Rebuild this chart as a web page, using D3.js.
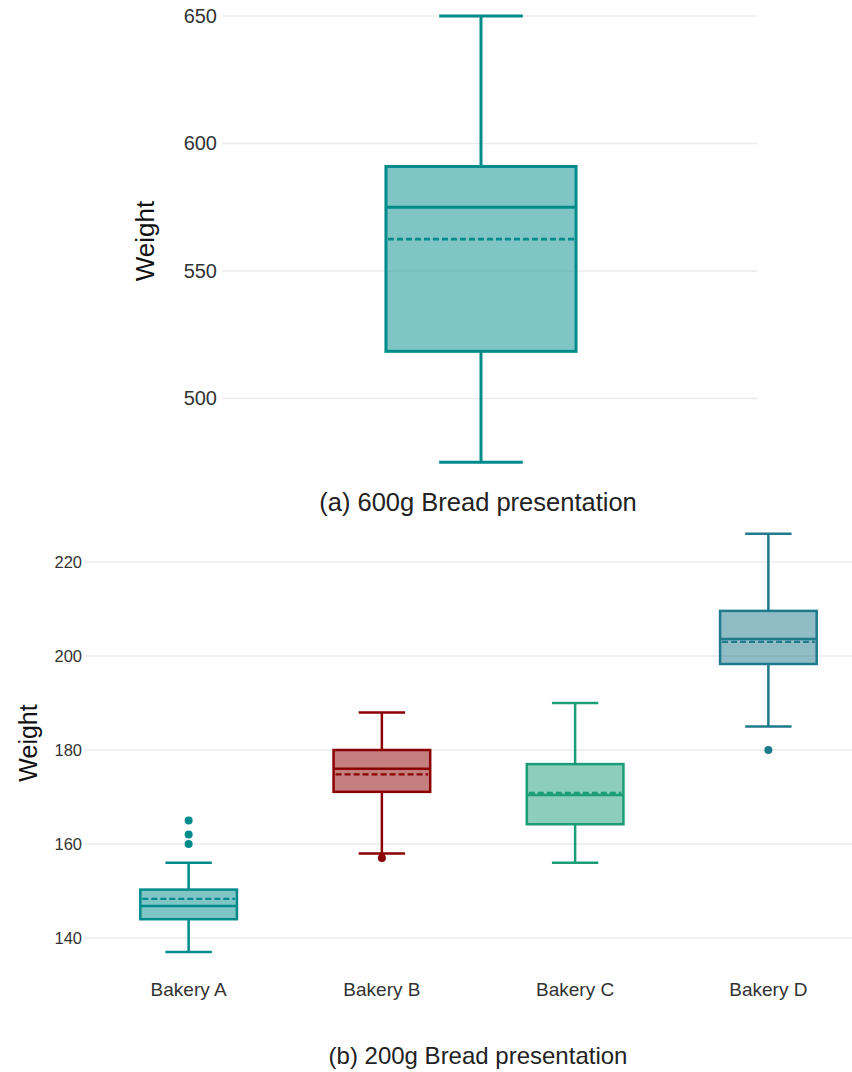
<!DOCTYPE html>
<html>
<head>
<meta charset="utf-8">
<script src="https://cdn.jsdelivr.net/npm/d3@7"></script>
<style>
  html, body { margin: 0; padding: 0; background: #fff; }
  svg { display: block; font-family: "Liberation Sans", Arial, sans-serif; }
</style>
</head>
<body>
<svg id="chart" width="852" height="1072"></svg>
<script>
// ---- (a) 600g bread: one box ----
const topGroups = ["600g"];
const topLow = [475];
const topQ1 = [518.5];
const topMedian = [575];
const topQ3 = [591];
const topHigh = [650];
const topMean = [562.5];
const topTicks = [500, 550, 600, 650];

// ---- (b) 200g bread: four bakeries ----
const bakeries = ["Bakery A", "Bakery B", "Bakery C", "Bakery D"];
const lowWhisker = [137, 158, 156, 185];
const q1 = [144, 171.1, 164.2, 198.3];
const median = [146.8, 176, 170.4, 203.6];
const q3 = [150.3, 180, 177, 209.6];
const highWhisker = [156, 188, 190, 226];
const means = [148.3, 174.8, 170.9, 203];
const outliers = [[160, 162, 165], [157], [], [180]];
const bottomTicks = [140, 160, 180, 200, 220];
const bakeryColors = ["#008B8B", "#8B0000", "#1B9E77", "#1F7A8C"];

const svg = d3.select("#chart");

function drawBox(g, cx, boxW, capW, y, s, color, sw) {
  // whiskers
  g.append("line").attr("x1", cx).attr("x2", cx).attr("y1", y(s.q3)).attr("y2", y(s.high))
    .attr("stroke", color).attr("stroke-width", sw);
  g.append("line").attr("x1", cx).attr("x2", cx).attr("y1", y(s.q1)).attr("y2", y(s.low))
    .attr("stroke", color).attr("stroke-width", sw);
  // caps
  [s.high, s.low].forEach(v => {
    g.append("line").attr("x1", cx - capW / 2).attr("x2", cx + capW / 2)
      .attr("y1", y(v)).attr("y2", y(v)).attr("stroke", color).attr("stroke-width", sw);
  });
  // box
  g.append("rect").attr("x", cx - boxW / 2).attr("width", boxW)
    .attr("y", y(s.q3)).attr("height", y(s.q1) - y(s.q3))
    .attr("fill", color).attr("fill-opacity", 0.5)
    .attr("stroke", color).attr("stroke-width", sw);
  // median
  g.append("line").attr("x1", cx - boxW / 2).attr("x2", cx + boxW / 2)
    .attr("y1", y(s.median)).attr("y2", y(s.median))
    .attr("stroke", color).attr("stroke-width", sw);
  // mean (dashed)
  g.append("line").attr("x1", cx - boxW / 2 + 2).attr("x2", cx + boxW / 2 - 2)
    .attr("y1", y(s.mean)).attr("y2", y(s.mean))
    .attr("stroke", color).attr("stroke-width", sw * 0.9)
    .attr("stroke-dasharray", "6,3");
  // outliers
  (s.out || []).forEach(v => {
    g.append("circle").attr("cx", cx).attr("cy", y(v)).attr("r", 4).attr("fill", color);
  });
}

// ================= Panel (a) =================
{
  const y = d3.scaleLinear().domain([500, 650]).range([398.5, 16]);
  const x = d3.scaleBand().domain(topGroups).range([222, 740]);
  const gridX0 = 222, gridX1 = 757;
  const g = svg.append("g");

  const yAxis = d3.axisLeft(y).tickValues(topTicks).tickSize(0).tickPadding(0);
  const ax = g.append("g").attr("transform", `translate(${gridX0 - 5},0)`).call(yAxis);
  ax.select(".domain").remove();
  ax.selectAll("text").attr("font-size", 20).attr("fill", "#333")
    .attr("font-family", "'Liberation Sans', Arial, sans-serif");

  g.selectAll(".gridA").data(topTicks).join("line")
    .attr("x1", gridX0).attr("x2", gridX1)
    .attr("y1", d => y(d)).attr("y2", d => y(d))
    .attr("stroke", "#ebebeb").attr("stroke-width", 1.5);

  topGroups.forEach((k, i) => {
    const cx = x(k) + x.bandwidth() / 2;
    const boxW = x.bandwidth() * 0.367;
    drawBox(g, cx, boxW, boxW * 0.44, y, {
      low: topLow[i], q1: topQ1[i], median: topMedian[i], q3: topQ3[i],
      high: topHigh[i], mean: topMean[i], out: []
    }, "#008B8B", 3);
  });

  g.append("text").attr("transform", "translate(154,241) rotate(-90)")
    .attr("text-anchor", "middle").attr("font-size", 26).attr("fill", "#111")
    .text("Weight");

  g.append("text").attr("x", 478).attr("y", 511).attr("text-anchor", "middle")
    .attr("font-size", 25.5).attr("fill", "#222")
    .text("(a) 600g Bread presentation");
}

// ================= Panel (b) =================
{
  const y = d3.scaleLinear().domain([140, 220]).range([938, 562]);
  const x = d3.scaleBand().domain(bakeries).range([92, 865]);
  const gridX0 = 85, gridX1 = 852;
  const g = svg.append("g");

  const yAxis = d3.axisLeft(y).tickValues(bottomTicks).tickSize(0).tickPadding(0);
  const ay = g.append("g").attr("transform", `translate(${gridX0 - 3},0)`).call(yAxis);
  ay.select(".domain").remove();
  ay.selectAll("text").attr("font-size", 16.5).attr("fill", "#333")
    .attr("font-family", "'Liberation Sans', Arial, sans-serif");

  g.selectAll(".gridB").data(bottomTicks).join("line")
    .attr("x1", gridX0).attr("x2", gridX1)
    .attr("y1", d => y(d)).attr("y2", d => y(d))
    .attr("stroke", "#ebebeb").attr("stroke-width", 1.5);

  const xAxis = d3.axisBottom(x).tickSize(0).tickPadding(0);
  const axx = g.append("g").attr("transform", "translate(0,982)").call(xAxis);
  axx.select(".domain").remove();
  axx.selectAll("text").attr("font-size", 19).attr("fill", "#333")
    .attr("font-family", "'Liberation Sans', Arial, sans-serif");

  bakeries.forEach((k, i) => {
    const cx = x(k) + x.bandwidth() / 2;
    const boxW = x.bandwidth() * 0.5;
    drawBox(g, cx, boxW, x.bandwidth() * 0.24, y, {
      low: lowWhisker[i], q1: q1[i], median: median[i], q3: q3[i],
      high: highWhisker[i], mean: means[i], out: outliers[i]
    }, bakeryColors[i], 2.5);
  });

  g.append("text").attr("transform", "translate(37,743) rotate(-90)")
    .attr("text-anchor", "middle").attr("font-size", 25).attr("fill", "#111")
    .text("Weight");

  g.append("text").attr("x", 478).attr("y", 1064).attr("text-anchor", "middle")
    .attr("font-size", 24).attr("fill", "#222")
    .text("(b) 200g Bread presentation");
}
</script>
</body>
</html>
